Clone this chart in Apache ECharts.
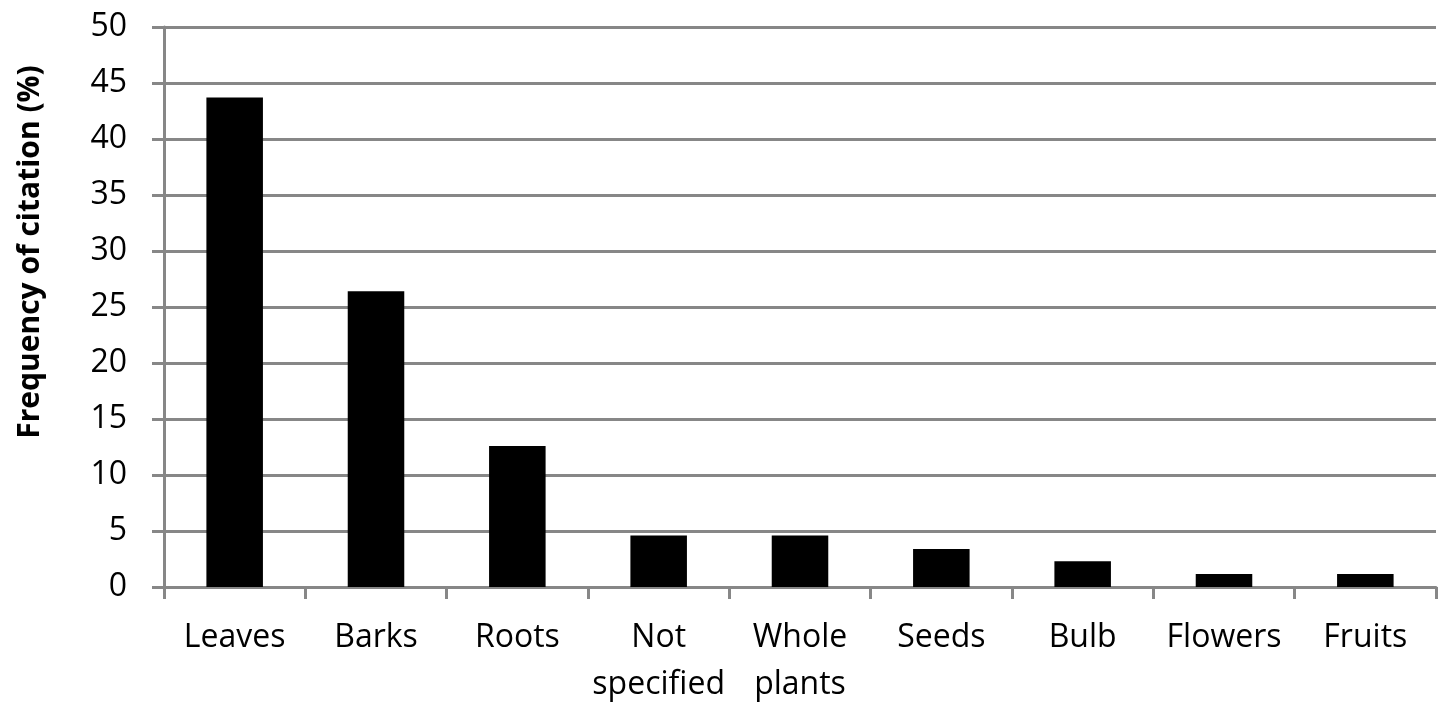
<!DOCTYPE html>
<html><head><meta charset="utf-8">
<script src="https://cdn.jsdelivr.net/npm/echarts@6/dist/echarts.min.js"></script>
<style>html,body{margin:0;padding:0;background:#fff;overflow:hidden}#c{width:1442px;height:702px}</style>
</head><body><div id="c"></div>
<script>
const categories = ['Leaves','Barks','Roots','Not\nspecified','Whole\nplants','Seeds','Bulb','Flowers','Fruits'];
const values = [43.7, 26.4, 12.6, 4.6, 4.6, 3.4, 2.3, 1.15, 1.15];
const yTitle = 'Frequency of citation (%)';
const FONT = 'Open Sans';
const chart = echarts.init(document.getElementById('c'));
chart.setOption({
  animation: false,
  grid: {left: 164, top: 27, right: 6, bottom: 115, containLabel: false, outerBoundsMode: 'none'},
  xAxis: {
    type: 'category', data: categories,
    axisLine: {lineStyle: {color: '#878787', width: 3}},
    axisTick: {show: true, length: 12, lineStyle: {color: '#878787', width: 3}},
    axisLabel: {color: '#000', fontFamily: FONT, fontSize: 32, margin: 27, lineHeight: 47, interval: 0}
  },
  yAxis: {
    type: 'value', min: 0, max: 50, interval: 5,
    axisLine: {show: true, lineStyle: {color: '#878787', width: 3}},
    axisTick: {show: true, length: 12, lineStyle: {color: '#878787', width: 3}},
    axisLabel: {color: '#000', fontFamily: FONT, fontSize: 32, margin: 37},
    splitLine: {show: true, lineStyle: {color: '#878787', width: 3}}
  },
  graphic: [{
    type: 'text', x: 30, y: 252, rotation: Math.PI / 2,
    style: {text: yTitle, fill: '#000', font: 'bold 30px "Open Sans"', textAlign: 'center', textVerticalAlign: 'middle'}
  }],
  series: [{
    type: 'bar', data: values, barWidth: '40%',
    itemStyle: {color: '#000'}
  }]
});
</script></body></html>
